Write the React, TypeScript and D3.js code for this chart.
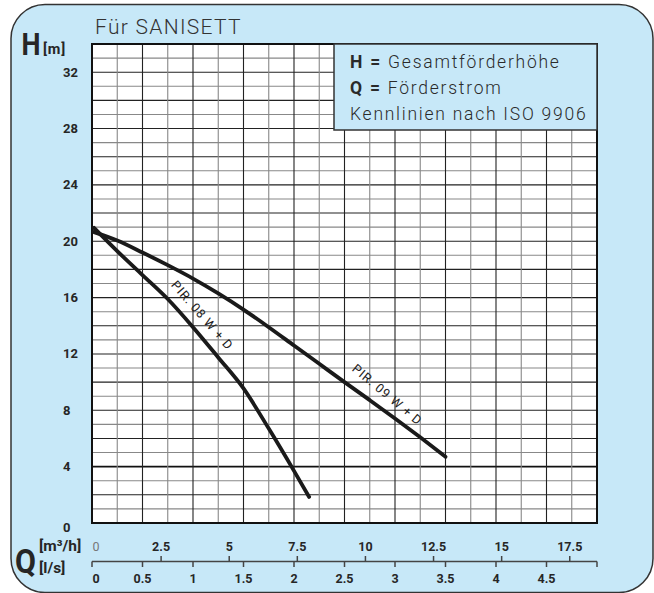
import React from "react";
import * as d3 from "d3";

// ---- data ----
const qLsTicks = [0, 0.5, 1, 1.5, 2, 2.5, 3, 3.5, 4, 4.5];
const qLsTickLabels = ["0", "0.5", "1", "1.5", "2", "2.5", "3", "3.5", "4", "4.5"];
const qM3hTicks = [0, 2.5, 5, 7.5, 10, 12.5, 15, 17.5];
const qM3hTickLabels = ["0", "2.5", "5", "7.5", "10", "12.5", "15", "17.5"];
const hTicks = [0, 4, 8, 12, 16, 20, 24, 28, 32];

const pir08Q = [0.02, 0.25, 0.5, 0.75, 1.0, 1.25, 1.5, 1.75, 2.0, 2.15];
const pir08H = [20.95, 19.3, 17.6, 15.9, 13.9, 11.75, 9.55, 6.7, 3.7, 1.85];

const pir09Q = [0.02, 0.25, 0.5, 0.75, 1.0, 1.25, 1.5, 1.75, 2.0, 2.25, 2.5, 2.75, 3.0, 3.25, 3.5];
const pir09H = [20.65, 20.05, 19.2, 18.3, 17.35, 16.3, 15.15, 13.9, 12.6, 11.3, 10.0, 8.72, 7.42, 6.08, 4.7];

const curveNames = ["PIR. 08 W + D", "PIR. 09 W + D"];
const labelQ = [0.98, 2.83];

const legendLines = [
  { bold: "H = ", rest: "Gesamtförderhöhe" },
  { bold: "Q = ", rest: "Förderstrom" },
  { bold: "", rest: "Kennlinien nach ISO 9906" },
];

// ---- layout ----
const W = 654;
const H = 593;
const L = 92, R = 597, T = 44, B = 523;
const BLUE = "#c7e8f8";
const INK = "#262626";
const FONT = "Roboto, 'Noto Sans', sans-serif";

export default function App() {
  const x = d3.scaleLinear().domain([0, 5]).range([L, R]);
  const xm = d3.scaleLinear().domain([0, 18.5]).range([93, R]);
  const y = d3.scaleLinear().domain([0, 34]).range([B, T]);

  const vLines = d3.range(0, 5.001, 0.25);
  const hLines = d3.range(0, 34.001, 1);

  const line = d3
    .line<[number, number]>()
    .x((d) => x(d[0]))
    .y((d) => y(d[1]))
    .curve(d3.curveMonotoneX);

  const series = [
    pir08Q.map((q, i) => [q, pir08H[i]] as [number, number]),
    pir09Q.map((q, i) => [q, pir09H[i]] as [number, number]),
  ];

  const interp = (qs: number[], hs: number[], q: number) => {
    for (let i = 0; i < qs.length - 1; i++) {
      if (q >= qs[i] && q <= qs[i + 1]) {
        const t = (q - qs[i]) / (qs[i + 1] - qs[i]);
        return hs[i] + t * (hs[i + 1] - hs[i]);
      }
    }
    return hs[hs.length - 1];
  };
  const labelAngles = [49, 40];
  const qsAll = [pir08Q, pir09Q];
  const hsAll = [pir08H, pir09H];

  const axisY = 561.5;

  return (
    <svg
      width={W}
      height={H}
      viewBox={`0 0 ${W} ${H}`}
      style={{ position: "absolute", left: 0, top: 0, background: "#fff" }}
    >
      <rect x={11} y={4.5} width={642} height={588} rx={34} ry={34} fill={BLUE} stroke="#333" strokeWidth={1.5} />

      <text x={95} y={33.5} fontFamily={FONT} fontWeight={300} fontSize={21} fill="#333" letterSpacing={1.3}>
        Für SANISETT
      </text>

      {/* plot area */}
      <rect x={L} y={T} width={R - L} height={B - T} fill="#fff" />
      {hLines.map((h, i) => (
        <line
          key={"h" + i}
          x1={L}
          x2={R}
          y1={y(h)}
          y2={y(h)}
          stroke={h === 4 ? "#111" : i % 2 === 0 ? "#222" : "#888"}
          strokeWidth={h === 4 ? 1.6 : 1.1}
        />
      ))}
      {vLines.map((q, i) => (
        <line
          key={"v" + i}
          x1={x(q)}
          x2={x(q)}
          y1={T}
          y2={B}
          stroke={i % 2 === 0 ? "#222" : "#888"}
          strokeWidth={1.1}
        />
      ))}
      <rect x={L} y={T} width={R - L} height={B - T} fill="none" stroke="#111" strokeWidth={2} />

      {/* legend box */}
      <rect x={334} y={T} width={R - 334} height={86} fill={BLUE} stroke="#333" strokeWidth={1.5} />
      {legendLines.map((l, i) => (
        <text
          key={"lg" + i}
          x={350}
          y={67.5 + i * 26}
          fontFamily={FONT}
          fontSize={17.5}
          fill="#2a2a2a"
          letterSpacing={1.75}
        >
          {l.bold && <tspan fontWeight={700}>{l.bold}</tspan>}
          <tspan fontWeight={300}>{l.rest}</tspan>
        </text>
      ))}

      {/* curves */}
      {series.map((s, i) => (
        <path
          key={"c" + i}
          d={line(s) || ""}
          fill="none"
          stroke="#1a1a1a"
          strokeWidth={3.8}
          strokeLinecap="round"
          strokeLinejoin="round"
        />
      ))}
      {curveNames.map((name, i) => {
        const q = labelQ[i];
        const h = interp(qsAll[i], hsAll[i], q);
        return (
          <text
            key={"cl" + i}
            transform={`translate(${x(q)},${y(h)}) rotate(${labelAngles[i]})`}
            y={-10.5}
            textAnchor="middle"
            fontFamily={FONT}
            fontSize={12.5}
            fill="#222"
            letterSpacing={0.9}
          >
            {name}
          </text>
        );
      })}

      {/* y axis */}
      {hTicks.map((h) => (
        <text
          key={"yt" + h}
          x={63}
          y={y(h) + (h === 0 ? 4 : 0)}
          dominantBaseline="central"
          fontFamily={FONT}
          fontWeight={700}
          fontSize={13}
          fill={INK}
        >
          {h}
        </text>
      ))}
      <text x={21.5} y={55} fontFamily={FONT} fontWeight={700} fontSize={32} fill={INK} textLength={19} lengthAdjust="spacingAndGlyphs">
        H
      </text>
      <text x={43} y={54} fontFamily={FONT} fontWeight={700} fontSize={14.5} fill={INK} letterSpacing={0.8}>
        [m]
      </text>

      {/* x axes */}
      <text x={15} y={573} fontFamily={FONT} fontWeight={700} fontSize={34} fill={INK} textLength={21} lengthAdjust="spacingAndGlyphs">
        Q
      </text>
      <text x={39} y={551} fontFamily={FONT} fontWeight={700} fontSize={15.5} fill={INK}>
        [m³/h]
      </text>
      <text x={39} y={572.5} fontFamily={FONT} fontWeight={700} fontSize={15.5} fill={INK}>
        [l/s]
      </text>

      <line x1={L} x2={R} y1={axisY} y2={axisY} stroke="#444" strokeWidth={1.5} />
      {qLsTicks.concat([5]).map((q) => (
        <line key={"lt" + q} x1={x(q)} x2={x(q)} y1={axisY} y2={axisY + 5.5} stroke="#444" strokeWidth={1.5} />
      ))}
      {qM3hTicks.slice(1).map((m) => (
        <line key={"mt" + m} x1={xm(m)} x2={xm(m)} y1={axisY} y2={axisY - 5.5} stroke="#444" strokeWidth={1.5} />
      ))}
      {qM3hTicks.map((m, i) => (
        <text
          key={"ml" + m}
          x={i === 0 ? L + 0.5 : xm(m)}
          y={550.5}
          textAnchor={i === 0 ? "start" : "middle"}
          fontFamily={FONT}
          fontWeight={i === 0 ? 400 : 700}
          fontSize={12.5}
          fill={i === 0 ? "#777" : INK}
        >
          {qM3hTickLabels[i]}
        </text>
      ))}
      {qLsTicks.map((q, i) => (
        <text
          key={"ll" + q}
          x={i === 0 ? L + 0.5 : x(q)}
          y={582.5}
          textAnchor={i === 0 ? "start" : "middle"}
          fontFamily={FONT}
          fontWeight={700}
          fontSize={12.5}
          fill={INK}
        >
          {qLsTickLabels[i]}
        </text>
      ))}
    </svg>
  );
}
